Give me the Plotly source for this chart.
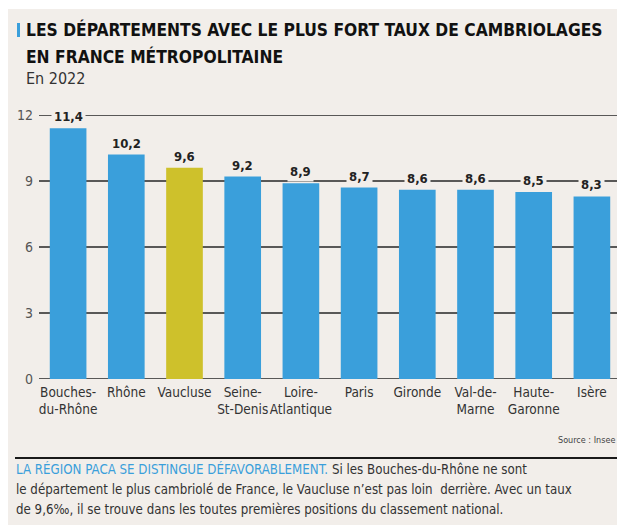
import plotly.graph_objects as go

categories = ["Bouches-<br>du-Rhône", "Rhône", "Vaucluse", "Seine-<br>St-Denis", "Loire-<br>Atlantique",
              "Paris", "Gironde", "Val-de-<br>Marne", "Haute-<br>Garonne", "Isère"]
values = [11.4, 10.2, 9.6, 9.2, 8.9, 8.7, 8.6, 8.6, 8.5, 8.3]
highlight = "Vaucluse"
tick_vals = [0, 3, 6, 9, 12]

BLUE = "#3a9fdb"
OLIVE = "#cec12b"
BEIGE = "#f2eeea"
FONT = "Liberation Sans Narrow, DejaVu Sans Condensed, Arial Narrow, sans-serif"

# the page body adds an 8px margin; work in page pixels and convert
OFF = 8
W, H = 625 - OFF, 525 - OFF
PL, PR, PT, PB = 39, 621, 115, 379  # plot area in page pixels
L, T = PL - OFF, PT - OFF
R = W - (PR - OFF)
B = H - (PB - OFF)
PW = PR - PL
PH = PB - PT

def px(x):
    return (x - PL) / PW

def py(y):
    return (PB - y) / PH

colors = [OLIVE if c == highlight else BLUE for c in categories]

fig = go.Figure()
fig.add_trace(go.Bar(x=categories, y=values, marker=dict(color=colors, line=dict(width=0)),
                     hoverinfo="skip", showlegend=False))

shapes = []
shapes.append(dict(type="rect", xref="paper", yref="paper", x0=px(OFF), x1=px(621), y0=py(540), y1=py(9),
                   fillcolor=BEIGE, line=dict(width=0), layer="below"))
for v in tick_vals:
    shapes.append(dict(type="line", xref="paper", yref="y", x0=0, x1=1, y0=v, y1=v,
                       line=dict(color="#262626", width=1.6), layer="below"))
shapes.append(dict(type="rect", xref="paper", yref="paper", x0=px(17), x1=px(20), y0=py(37), y1=py(23),
                   fillcolor=BLUE, line=dict(width=0)))
shapes.append(dict(type="line", xref="paper", yref="paper", x0=px(15), x1=px(621), y0=py(458), y1=py(458),
                   line=dict(color="#1a1a1a", width=2)))

annotations = []
for c, v in zip(categories, values):
    annotations.append(dict(x=c, y=v, xref="x", yref="y", text="<b>" + f"{v:.1f}".replace(".", ",") + "</b>",
                            showarrow=False, yanchor="bottom", yshift=1, bgcolor=BEIGE, borderpad=2,
                            font=dict(family=FONT, size=13, color="#222")))

annotations.append(dict(x=px(24), y=py(30), xref="paper", yref="paper", xanchor="left", yanchor="middle",
                        text="<b>LES DÉPARTEMENTS AVEC LE PLUS FORT TAUX DE CAMBRIOLAGES</b>", showarrow=False,
                        font=dict(family=FONT, size=17.3, color="#111")))
annotations.append(dict(x=px(24), y=py(56), xref="paper", yref="paper", xanchor="left", yanchor="middle",
                        text="<b>EN FRANCE MÉTROPOLITAINE</b>", showarrow=False,
                        font=dict(family=FONT, size=17.3, color="#111")))
annotations.append(dict(x=px(24), y=py(79), xref="paper", yref="paper", xanchor="left", yanchor="middle",
                        text="En 2022", showarrow=False,
                        font=dict(family=FONT, size=16, color="#333")))
annotations.append(dict(x=px(617), y=py(440), xref="paper", yref="paper", xanchor="right", yanchor="middle",
                        text="Source : Insee", showarrow=False,
                        font=dict(family=FONT, size=9, color="#444")))
body = [
    "<span style='color:" + BLUE + "'>LA RÉGION PACA SE DISTINGUE DÉFAVORABLEMENT.</span> Si les Bouches-du-Rhône ne sont",
    "le département le plus cambriolé de France, le Vaucluse n’est pas loin  derrière. Avec un taux",
    "de 9,6‰, il se trouve dans les toutes premières positions du classement national.",
]
for i, line in enumerate(body):
    annotations.append(dict(x=px(14), y=py(469 + i * 20), xref="paper", yref="paper", xanchor="left",
                            yanchor="middle", text=line, showarrow=False,
                            font=dict(family=FONT, size=13.2, color="#333")))

fig.update_layout(
    width=W, height=H,
    margin=dict(l=L, r=R, t=T, b=B, pad=0),
    paper_bgcolor="white", plot_bgcolor=BEIGE,
    bargap=0.37,
    shapes=shapes, annotations=annotations,
    font=dict(family=FONT),
)
fig.update_xaxes(type="category", showgrid=False, showline=False, zeroline=False, ticks="",
                 ticklabelstandoff=3,
                 tickfont=dict(family=FONT, size=13.5, color="#333"), tickangle=0, fixedrange=True)
fig.update_yaxes(range=[0, 12], tickvals=tick_vals, showgrid=False, zeroline=False, showline=False, ticks="",
                 ticklabelstandoff=5, tickfont=dict(family=FONT, size=14, color="#555"), fixedrange=True)

fig.write_html("out.html")
